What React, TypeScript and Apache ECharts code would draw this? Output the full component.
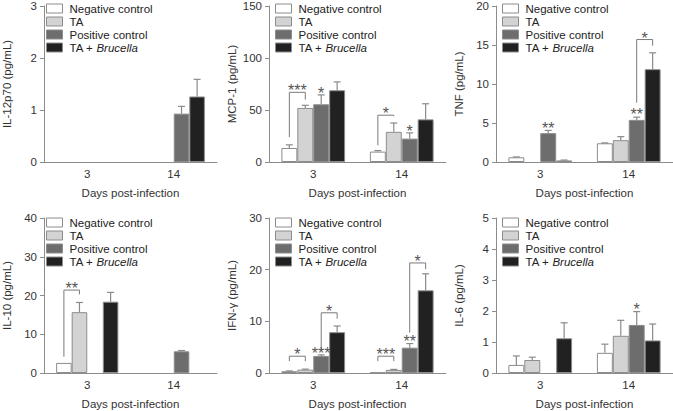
import React, { useEffect, useRef } from 'react';
import * as echarts from 'echarts';

const categories = ['3', '14'];
const groupNames = ['Negative control', 'TA', 'Positive control', 'TA + Brucella'];

// means and SE, indexed [group][category]
const il12Mean = [[null, null], [null, null], [null, 0.93], [null, 1.26]];
const il12Err = [[0, 0], [0, 0], [0, 0.14], [0, 0.33]];
const mcpMean = [[13.5, 10], [52, 29], [55.5, 22.5], [69, 41]];
const mcpErr = [[3, 1], [2.5, 8.5], [9, 5.5], [8, 15]];
const tnfMean = [[0.6, 2.4], [null, 2.8], [3.7, 5.4], [0.2, 11.9]];
const tnfErr = [[0.05, 0.05], [0, 0.45], [0.35, 0.35], [0.05, 2.1]];
const il10Mean = [[2.6, null], [15.7, null], [null, 5.6], [18.4, null]];
const il10Err = [[0, 0], [2.5, 0], [0, 0.2], [2.4, 0]];
const ifnMean = [[0.35, 0.1], [0.65, 0.6], [3.3, 4.9], [7.9, 16]];
const ifnErr = [[0.05, 0], [0.1, 0.1], [0.2, 0.8], [1.2, 3.2]];
const il6Mean = [[0.26, 0.65], [0.42, 1.2], [null, 1.55], [1.12, 1.05]];
const il6Err = [[0.29, 0.28], [0.09, 0.5], [0, 0.43], [0.5, 0.53]];

// brackets: [category, fromGroup, toGroup, leftLegBottom, rightLegBottom, top, label]
const mcpBrackets = [[0, 0, 1, 24, 60, 67, '***'], [1, 0, 1, 16, 44, 45, '*']];
const tnfBrackets = [[1, 2, 3, 7.6, 14.9, 15.7, '*']];
const il10Brackets = [[0, 0, 1, 4.2, 20.3, 21.4, '**']];
const ifnBrackets = [
  [0, 0, 1, 2.3, 2.3, 3.25, '*'],
  [0, 2, 3, 4.4, 10.5, 11.65, '*'],
  [1, 0, 1, 2.3, 2.3, 3.25, '***'],
  [1, 2, 3, 7.8, 20.1, 21.3, '*'],
];
// single stars: [category, group, value, label]
const mcpStars = [[0, 2, 69.5, '*'], [1, 2, 33, '*']];
const tnfStars = [[0, 2, 4.8, '**'], [1, 2, 6.5, '**']];
const ifnStars = [[0, 2, 4.5, '***'], [1, 2, 6.8, '**']];
const il6Stars = [[1, 2, 2.17, '*']];

const yMax = [3, 150, 20, 40, 30, 5];
const yInterval = [1, 50, 5, 10, 10, 1];
const yNames = ['IL-12p70 (pg/mL)', 'MCP-1 (pg/mL)', 'TNF (pg/mL)', 'IL-10 (pg/mL)', 'IFN-γ (pg/mL)', 'IL-6 (pg/mL)'];

const panels = [
  { mean: il12Mean, err: il12Err, brackets: [], stars: [] },
  { mean: mcpMean, err: mcpErr, brackets: mcpBrackets, stars: mcpStars },
  { mean: tnfMean, err: tnfErr, brackets: tnfBrackets, stars: tnfStars },
  { mean: il10Mean, err: il10Err, brackets: il10Brackets, stars: [] },
  { mean: ifnMean, err: ifnErr, brackets: ifnBrackets, stars: ifnStars },
  { mean: il6Mean, err: il6Err, brackets: [], stars: il6Stars },
];

const FONT = "'Liberation Sans', Arial, sans-serif";
const FS = 11.5;
const STAR_FS = 16;
const barColors = ['#ffffff', '#d3d3d3', '#6d6d6d', '#212121'];
const borderCol = '#8c8c8c';
const axisCol = '#8c8c8c';
const labelCol = '#333';
const GAP = 0.28;

const gridLefts = [40, 269, 496];
const gridTops = [4, 218];
const GW = 177;
const GH = 158;

function barX(api: any, cat: number, k: number, val: number) {
  const p = api.coord([cat, val]);
  const band = api.size([1, 0])[0];
  const w = (band * (1 - GAP)) / 4;
  return [p[0] + (k - 1.5) * w, p[1]];
}

export default function App() {
  const ref = useRef<HTMLDivElement>(null);
  useEffect(() => {
    const chart = echarts.init(ref.current!, null, { renderer: 'svg' });
    const grid: any[] = [];
    const xAxis: any[] = [];
    const yAxis: any[] = [];
    const legend: any[] = [];
    const series: any[] = [];
    panels.forEach((pn, i) => {
      const gl = gridLefts[i % 3];
      const gt = gridTops[Math.floor(i / 3)];
      grid.push({ left: gl, top: gt, width: GW, height: GH });
      xAxis.push({
        type: 'category', gridIndex: i, data: categories,
        name: 'Days post-infection', nameLocation: 'middle', nameGap: 25,
        nameTextStyle: { fontSize: FS, color: labelCol, fontFamily: FONT },
        axisLine: { lineStyle: { color: axisCol } },
        axisTick: { length: 4, lineStyle: { color: axisCol } },
        axisLabel: { fontSize: FS, color: labelCol, margin: 6, fontFamily: FONT },
      });
      yAxis.push({
        type: 'value', gridIndex: i, min: 0, max: yMax[i], interval: yInterval[i],
        name: yNames[i], nameLocation: 'middle', nameGap: 31,
        nameTextStyle: { fontSize: FS, color: labelCol, fontFamily: FONT },
        axisLine: { show: true, lineStyle: { color: axisCol } },
        axisTick: { show: true, length: 4, lineStyle: { color: axisCol } },
        axisLabel: { fontSize: FS, color: labelCol, margin: 7, fontFamily: FONT },
        splitLine: { show: false },
      });
      legend.push({
        orient: 'vertical', left: gl + 6, top: gt - 1.5, padding: 0,
        itemWidth: 16, itemHeight: 9, itemGap: 1, icon: 'rect',
        itemStyle: { borderWidth: 1, borderColor: borderCol },
        data: groupNames,
        formatter: (n: string) => (n === 'TA + Brucella' ? 'TA + {i|Brucella}' : n),
        textStyle: {
          fontSize: FS, color: '#222', fontFamily: FONT, padding: [0, 0, 0, 2], lineHeight: 12,
          rich: { i: { fontStyle: 'italic', fontSize: FS, color: '#222', fontFamily: FONT, lineHeight: 12 } },
        },
      });
      groupNames.forEach((g, k) => {
        series.push({
          type: 'bar', name: g, xAxisIndex: i, yAxisIndex: i,
          data: pn.mean[k],
          barGap: '0%', barCategoryGap: GAP * 100 + '%',
          itemStyle: { color: barColors[k], borderColor: borderCol, borderWidth: 1 },
        });
      });
      const errData: any[] = [];
      pn.mean.forEach((row, k) => row.forEach((m, c) => {
        const e = pn.err[k][c];
        if (m != null && e > 0) errData.push([c, m, k, e]);
      }));
      series.push({
        type: 'custom', xAxisIndex: i, yAxisIndex: i, data: errData, z: 3,
        encode: { x: 0, y: 1 },
        renderItem: (params: any, api: any) => {
          const c = api.value(0), m = api.value(1), k = api.value(2), e = api.value(3);
          const [x, y0] = barX(api, c, k, m);
          const y1 = api.coord([c, m + e])[1];
          const st = { stroke: '#8a8a8a', lineWidth: 1.2 };
          return {
            type: 'group', children: [
              { type: 'line', shape: { x1: x, y1: y0, x2: x, y2: y1 }, style: st },
              { type: 'line', shape: { x1: x - 3.5, y1: y1, x2: x + 3.5, y2: y1 }, style: st },
            ],
          };
        },
      });
      const br = pn.brackets as any[];
      if (br.length) {
        series.push({
          type: 'custom', xAxisIndex: i, yAxisIndex: i, z: 4,
          data: br.map((b) => [b[0], b[5]]),
          encode: { x: 0, y: 1 },
          renderItem: (params: any, api: any) => {
            const b = br[params.dataIndex];
            const [xl, yl] = barX(api, b[0], b[1], b[3]);
            const [xr, yr] = barX(api, b[0], b[2], b[4]);
            const yt = api.coord([b[0], b[5]])[1];
            const st = { stroke: '#7a7a7a', lineWidth: 1, fill: null };
            return {
              type: 'group', children: [
                { type: 'polyline', shape: { points: [[xl, yl], [xl, yt], [xr, yt], [xr, yr]] }, style: st },
                {
                  type: 'text', x: (xl + xr) / 2, y: yt - 5 + 3.5,
                  style: { text: b[6], fill: '#555', fontSize: STAR_FS, fontFamily: FONT, align: 'center', verticalAlign: 'middle' },
                },
              ],
            };
          },
        });
      }
      const sr = pn.stars as any[];
      if (sr.length) {
        series.push({
          type: 'custom', xAxisIndex: i, yAxisIndex: i, z: 4,
          data: sr.map((s) => [s[0], s[2]]),
          encode: { x: 0, y: 1 },
          renderItem: (params: any, api: any) => {
            const s = sr[params.dataIndex];
            const [x, y] = barX(api, s[0], s[1], s[2]);
            return {
              type: 'text', x, y: y + 3.5,
              style: { text: s[3], fill: '#555', fontSize: STAR_FS, fontFamily: FONT, align: 'center', verticalAlign: 'middle' },
            };
          },
        });
      }
    });
    chart.setOption({
      animation: false,
      backgroundColor: '#fff',
      textStyle: { fontFamily: FONT },
      grid, xAxis, yAxis, legend, series,
    });
    return () => chart.dispose();
  }, []);
  return <div ref={ref} style={{ position: 'fixed', left: 0, top: 0, width: 673, height: 411 }} />;
}
